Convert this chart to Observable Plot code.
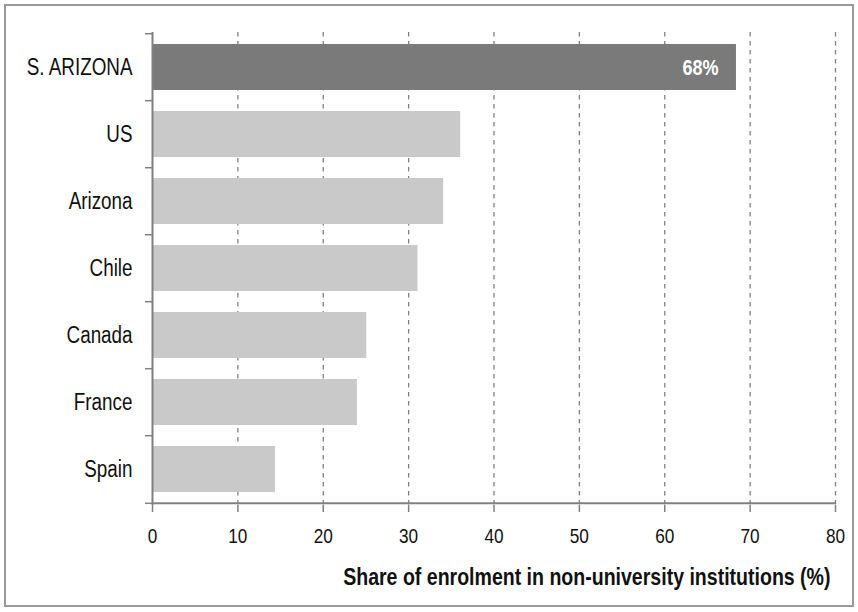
<!DOCTYPE html>
<html>
<head>
<meta charset="utf-8">
<script src="https://cdn.jsdelivr.net/npm/d3@7"></script>
<script src="https://cdn.jsdelivr.net/npm/@observablehq/plot@0.6"></script>
<style>
  html, body { margin: 0; padding: 0; background: #fff; }
  #wrap { position: relative; width: 858px; height: 612px; }
  #border { position: absolute; left: 4px; top: 4px; width: 846px; height: 599px; border: 2px solid #9a9a9a; pointer-events: none; }
  #chart svg { display: block; }
</style>
</head>
<body>
<div id="wrap"><div id="chart"></div><div id="border"></div></div>
<script>
const categories = ["S. ARIZONA", "US", "Arizona", "Chile", "Canada", "France", "Spain"];
const values = [68.4, 36.1, 34.1, 31.1, 25.1, 24.0, 14.4];
const highlighted = ["S. ARIZONA"];
const xTicks = [0, 10, 20, 30, 40, 50, 60, 70, 80];
const axisTitle = "Share of enrolment in non-university institutions (%)";

const data = categories.map((name, i) => ({name, value: values[i]}));

const W = 858, H = 612;
const mTop = 32, mBottom = 107, mLeft = 152, mRight = 23;
const step = (H - mTop - mBottom) / categories.length;
const pad = 0.31;
const font = "'Liberation Sans', Arial, sans-serif";
const axisColor = "#808080";

const chart = Plot.plot({
  width: W,
  height: H,
  marginTop: mTop,
  marginBottom: mBottom,
  marginLeft: mLeft,
  marginRight: mRight,
  style: {fontFamily: font, fontSize: "21px", color: "#111", background: "transparent"},
  x: {domain: [0, 80], ticks: xTicks},
  y: {domain: categories, paddingInner: pad, paddingOuter: pad / 2},
  marks: [
    Plot.gridX(xTicks.slice(1), {stroke: "#808080", strokeOpacity: 1, strokeWidth: 1.3, strokeDasharray: "4.5,4.5"}),
    Plot.barX(data, {
      x: "value",
      y: "name",
      fill: d => highlighted.includes(d.name) ? "#7a7a7a" : "#c9c9c9"
    }),
    Plot.text(data.filter(d => highlighted.includes(d.name)), {
      x: "value",
      y: "name",
      text: d => Math.round(d.value) + "%",
      textAnchor: "end",
      dx: -18,
      fill: "white",
      fontWeight: "bold",
      fontSize: 22
    }),
    Plot.ruleX([0], {stroke: axisColor, strokeWidth: 2}),
    Plot.ruleY([categories[categories.length - 1]], {x1: 0, x2: 80, dy: step / 2, stroke: axisColor, strokeWidth: 2}),
    Plot.ruleY(categories, {x1: 0, x2: 0, insetRight: 7, dy: -step / 2, stroke: axisColor, strokeWidth: 1.5}),
    Plot.ruleY([categories[categories.length - 1]], {x1: 0, x2: 0, insetRight: 7, dy: step / 2, stroke: axisColor, strokeWidth: 1.5}),
    Plot.axisY({tickSize: 0, tickPadding: 20, fontSize: 23, fill: "#111", label: null}),
    Plot.axisX({ticks: xTicks, tickSize: 7, tickPadding: 16, stroke: axisColor, strokeWidth: 1.5, fontSize: 21, fill: "#111", label: null}),
    Plot.text([axisTitle], {
      frameAnchor: "bottom-right",
      dy: 79,
      dx: -5,
      textAnchor: "end",
      fontWeight: "bold",
      fontSize: 23,
      fill: "#111",
      className: "xtitle"
    })
  ]
});
document.getElementById("chart").appendChild(chart);

// emulate a narrow (condensed) typeface by squeezing each label horizontally about its anchor
const ns = "http://www.w3.org/2000/svg";
chart.querySelectorAll("text").forEach(t => {
  const anchor = getComputedStyle(t).textAnchor;
  const isTitle = t.closest(".xtitle") !== null;
  const g = document.createElementNS(ns, "g");
  t.parentNode.insertBefore(g, t);
  g.appendChild(t);
  g.style.transformBox = "fill-box";
  g.style.transformOrigin = anchor === "end" ? "right center" : anchor === "middle" ? "center center" : "left center";
  g.style.transform = `scaleX(${isTitle ? 0.85 : 0.82})`;
});
</script>
</body>
</html>
